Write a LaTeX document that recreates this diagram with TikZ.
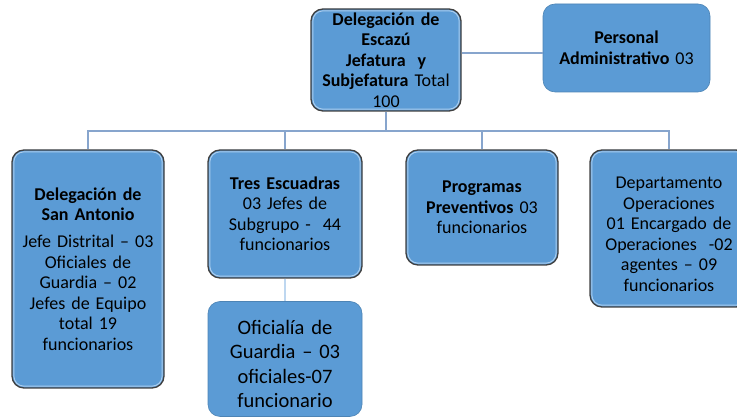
\documentclass[tikz,border=0pt]{standalone}
\usepackage{fontspec}
\setmainfont{Carlito}
\definecolor{boxblue}{RGB}{91,155,213}
\definecolor{boxedge}{RGB}{64,64,64}
\definecolor{bevel}{RGB}{170,205,238}
\definecolor{connblue}{RGB}{135,165,205}
\definecolor{connlight}{RGB}{190,215,240}
\begin{document}
\begin{tikzpicture}[x=1pt,y=1pt,
  box/.style={rounded corners=12pt, fill=boxblue, draw=boxedge, line width=1.3pt,
    align=center, inner sep=3pt, font=\fontsize{18}{20.5}\selectfont},
  plainbox/.style={box, draw=boxblue!85!black, line width=0.6pt},
  bevelline/.style={draw=bevel, line width=1pt, rounded corners=10pt},
  conn/.style={draw=connblue, line width=1.6pt},
  connl/.style={draw=connlight, line width=2pt}]
\useasboundingbox (0,0) rectangle (737,419);

\node[box, minimum width=150pt, minimum height=102pt, text width=144pt] (top) at (386,359)
  {\textbf{Delegación de}\\\textbf{Escazú}\\\textbf{Jefatura\ \ y}\\\textbf{Subjefatura} Total\\100};
\node[plainbox, minimum width=167pt, minimum height=88pt, text width=160pt] (pers) at (626.5,371)
  {\textbf{Personal}\\\textbf{Administrativo} 03};

\node[box, minimum width=152pt, minimum height=238pt, text width=146pt] (san) at (88,150)
  {\textbf{Delegación de}\\\textbf{San Antonio}\\[6.5pt]Jefe Distrital -- 03\\Oficiales de\\Guardia -- 02\\Jefes de Equipo\\total 19\\funcionarios};
\node[box, minimum width=154pt, minimum height=128pt, text width=148pt] (tres) at (285,205)
  {\textbf{Tres Escuadras}\\03 Jefes de\\Subgrupo -\ \ 44\\funcionarios};
\node[plainbox, minimum width=154pt, minimum height=115pt, text width=148pt,
  font=\fontsize{20.5}{24.5}\selectfont] (ofi) at (285,60)
  {\rule{0pt}{24pt}Oficialía de\\Guardia -- 03\\oficiales-07\\funcionario};
\node[box, minimum width=152pt, minimum height=115pt, text width=146pt] (prog) at (482,211.5)
  {\textbf{Programas}\\\textbf{Preventivos} 03\\funcionarios};
\node[box, minimum width=158pt, minimum height=157pt, text width=150pt] (dep) at (669,190.5)
  {\rule{0pt}{23pt}Departamento\\Operaciones\\01 Encargado de\\Operaciones\ \ -02\\agentes -- 09\\funcionarios};

\foreach \n in {top,san,tres,prog,dep}{
  \draw[bevelline] ([shift={(2.5,2.5)}]\n.south west) rectangle ([shift={(-2.5,-2.5)}]\n.north east);
}

\coordinate (bus) at (0,288);
\draw[conn] (top.south) -- (top.south |- bus);
\draw[conn] (san.north) -- (san.north |- bus) -| (dep.north);
\draw[conn] (tres.north) -- (tres.north |- bus);
\draw[conn] (prog.north) -- (prog.north |- bus);
\draw[conn] ([yshift=7pt]top.east) -- ([yshift=7pt]top.east -| pers.west);
\draw[connl] (tres.south) -- (ofi.north);
\end{tikzpicture}
\end{document}
